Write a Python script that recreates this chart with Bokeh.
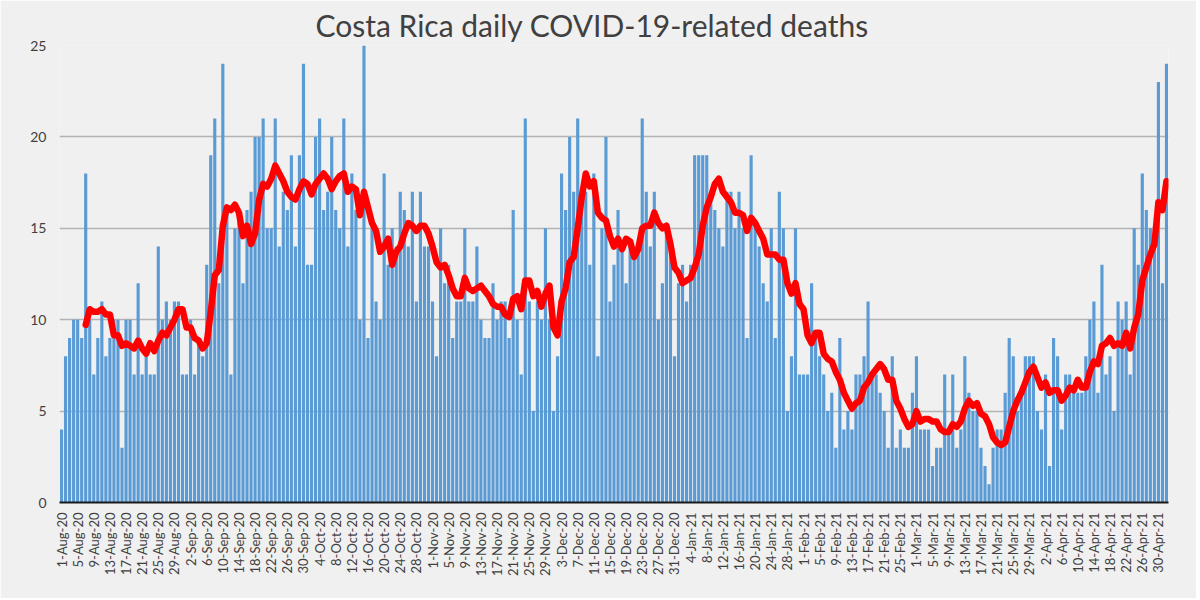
import math
import pandas as pd
from bokeh.plotting import figure
from bokeh.models import Range1d, FixedTicker, ColumnDataSource
from bokeh.embed import file_html
from bokeh.resources import INLINE

# Daily COVID-19-related deaths in Costa Rica
aug_2020 = [4, 8, 9, 10, 10, 9, 18, 10, 7, 9, 11, 8, 9, 10, 10, 3, 10, 10, 7, 12,
            7, 8, 7, 7, 14, 10, 11, 10, 11, 11, 7]
sep_2020 = [7, 10, 7, 9, 8, 13, 19, 21, 12, 24, 16, 7, 15, 16, 12, 16, 17, 20, 20, 21,
            15, 15, 21, 14, 17, 16, 19, 14, 19, 24]
oct_2020 = [13, 13, 20, 21, 16, 17, 20, 16, 15, 21, 14, 18, 16, 10, 25, 9, 15, 11, 10, 18,
            13, 15, 14, 17, 16, 14, 17, 11, 17, 14, 14]
nov_2020 = [11, 8, 15, 12, 13, 9, 11, 11, 15, 11, 11, 14, 10, 9, 9, 12, 10, 11, 11, 9,
            16, 10, 7, 21, 11, 5, 11, 10, 15, 10]
dec_2020 = [5, 8, 18, 16, 20, 17, 21, 17, 17, 13, 18, 8, 15, 20, 11, 13, 16, 14, 12, 14,
            14, 14, 21, 17, 14, 17, 10, 12, 15, 14, 8]
jan_2021 = [12, 13, 11, 13, 19, 19, 19, 19, 17, 16, 15, 14, 17, 17, 15, 17, 15, 9, 19, 15,
            14, 12, 11, 15, 9, 17, 15, 5, 8, 15, 7]
feb_2021 = [7, 7, 12, 9, 8, 7, 5, 6, 3, 9, 4, 5, 4, 7, 7, 8, 11, 7, 7, 6,
            5, 3, 8, 3, 4, 3, 3, 6]
mar_2021 = [8, 4, 4, 4, 2, 3, 3, 7, 4, 7, 3, 4, 8, 6, 5, 5, 3, 2, 1, 3,
            4, 4, 6, 9, 8, 5, 6, 8, 8, 8, 5]
apr_2021 = [4, 7, 2, 9, 8, 4, 7, 7, 6, 6, 6, 8, 10, 11, 6, 13, 7, 8, 5, 11,
            10, 11, 7, 15, 13, 18, 16, 15, 15, 23]
may_2021 = [12, 24]

start_date = "2020-08-01"
title_text = "Costa Rica daily COVID-19-related deaths"
y_ticks = [0, 5, 10, 15, 20, 25]
label_every = 4
avg_window = 7

deaths = (aug_2020 + sep_2020 + oct_2020 + nov_2020 + dec_2020 + jan_2021 +
          feb_2021 + mar_2021 + apr_2021 + may_2021)
dates = pd.date_range(start_date, periods=len(deaths), freq="D")
day_labels = [f"{d.day}-{d.strftime('%b')}-{d.strftime('%y')}" for d in dates]
idx = list(range(len(deaths)))

avg = pd.Series(deaths, dtype=float).rolling(avg_window).mean()

bar_src = ColumnDataSource(dict(x=idx, top=deaths, label=day_labels))
line_src = ColumnDataSource(dict(x=idx[avg_window - 1:], y=list(avg[avg_window - 1:])))

BG = "#f0f0f0"
FONT = "Lato"

p = figure(width=1196, height=598, output_backend="svg", toolbar_location=None,
           x_range=Range1d(-0.5, len(deaths) - 0.5), y_range=Range1d(0, 25),
           min_border_left=59, min_border_right=28, min_border_top=45,
           min_border_bottom=96, title=title_text)
p.background_fill_color = BG
p.border_fill_color = BG
p.outline_line_color = None

p.title.align = "left"
p.title.offset = 256
p.title.text_font = FONT
p.title.text_font_size = "30px"
p.title.text_font_style = "normal"
p.title.text_color = "#404040"
p.title.standoff = 5

p.vbar(x="x", top="top", width=0.78, source=bar_src,
       fill_color="#5b9bd5", line_color=None)
p.line(x="x", y="y", source=line_src, line_color="#ff0000", line_width=6.5,
       line_join="round", line_cap="round")

# grid
p.xgrid.grid_line_color = None
p.ygrid.grid_line_color = "#b3b3b3"
p.ygrid.grid_line_width = 1.5

# y axis
p.yaxis.ticker = FixedTicker(ticks=y_ticks)
p.yaxis.axis_line_color = None
p.yaxis.major_tick_line_color = None
p.yaxis.minor_tick_line_color = None
p.yaxis.major_label_text_font = FONT
p.yaxis.major_label_text_font_size = "14px"
p.yaxis.major_label_text_color = "#404040"
p.yaxis.major_label_standoff = 7

# x axis
tick_pos = list(range(0, len(deaths), label_every))
p.xaxis.ticker = FixedTicker(ticks=tick_pos)
p.xaxis.major_label_overrides = {i: day_labels[i] for i in tick_pos}
p.xaxis.major_label_orientation = math.pi / 2
p.xaxis.axis_line_color = "#1a1a1a"
p.xaxis.axis_line_width = 2
p.xaxis.major_tick_line_color = None
p.xaxis.minor_tick_line_color = None
p.xaxis.major_label_text_font = FONT
p.xaxis.major_label_text_font_size = "13px"
p.xaxis.major_label_text_color = "#404040"
p.xaxis.major_label_standoff = 4

open("out.html", "w").write(file_html(p, INLINE))
